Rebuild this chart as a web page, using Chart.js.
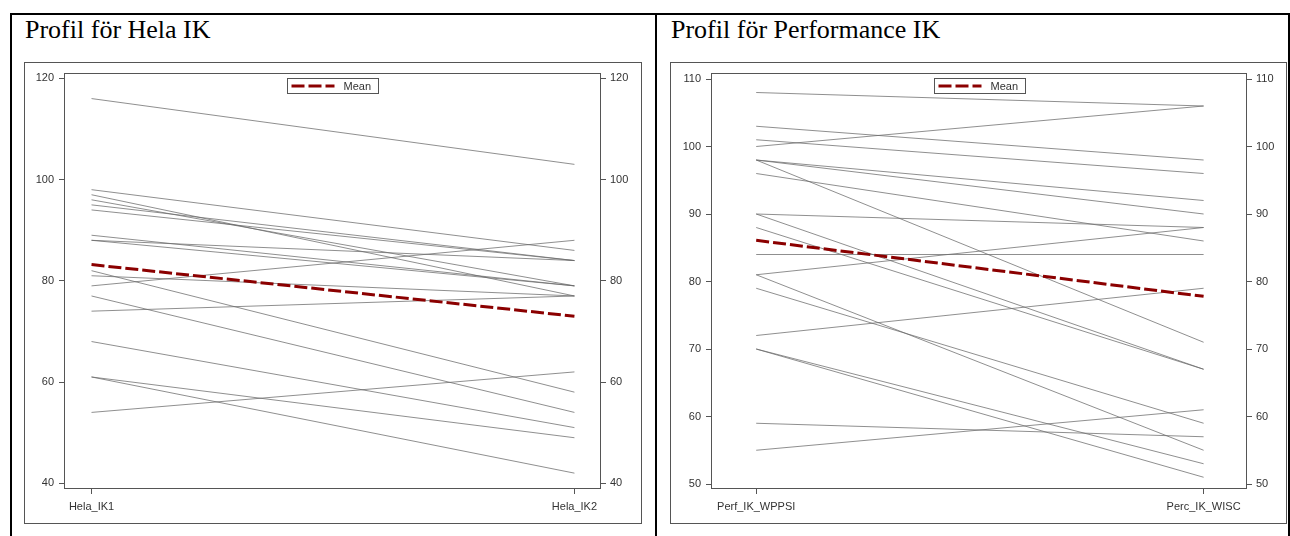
<!DOCTYPE html>
<html>
<head>
<meta charset="utf-8">
<script src="https://cdn.jsdelivr.net/npm/chart.js@4.4.1/dist/chart.umd.min.js"></script>
<style>
  html, body { margin: 0; padding: 0; background: #fff; }
  body { width: 1290px; height: 536px; position: relative; overflow: hidden; }
  .rule { position: absolute; background: #000; }
  .title { position: absolute; font-family: "Liberation Serif", "Times New Roman", serif; font-size: 26px; line-height: 30px; color: #000; white-space: nowrap; }
  .box { position: absolute; border: 1px solid #555; box-sizing: border-box; }
  .box canvas { display: block; }
</style>
</head>
<body>
<div class="rule" style="left:10px; top:13px; width:1280px; height:2px;"></div>
<div class="rule" style="left:10px; top:13px; width:2px; height:523px;"></div>
<div class="rule" style="left:655px; top:13px; width:2px; height:523px;"></div>
<div class="rule" style="left:1288px; top:13px; width:2px; height:523px;"></div>

<div class="title" style="left:25px; top:15px;">Profil för Hela IK</div>
<div class="title" style="left:671px; top:15px;">Profil för Performance IK</div>

<div class="box" style="left:24px; top:62px; width:618px; height:462px;"><canvas id="helaChart"></canvas></div>
<div class="box" style="left:670px; top:62px; width:617px; height:462px;"><canvas id="perfChart"></canvas></div>

<script>
/* Data: one value per child, paired by index */
const helaLabels = ["Hela_IK1", "Hela_IK2"];
const helaIK1 = [116, 98, 97, 96, 95, 94, 89, 88, 88, 82, 81, 79, 77, 74, 68, 61, 61, 54];
const helaIK2 = [103, 86, 77, 79, 84, 84, 79, 84, 79, 58, 77, 88, 54, 77, 51, 49, 42, 62];
const helaMean = [83.2, 73.0];
const helaTicks = [40, 60, 80, 100, 120];

const perfLabels = ["Perf_IK_WPPSI", "Perc_IK_WISC"];
const perfWPPSI = [108, 100, 103, 101, 98, 98, 98, 96, 90, 90, 88, 84, 81, 81, 79, 72, 70, 70, 59, 55];
const percWISC = [106, 106, 98, 96, 92, 90, 71, 86, 88, 67, 67, 84, 88, 55, 59, 79, 53, 51, 57, 61];
const perfMean = [86.1, 77.8];
const perfTicks = [50, 60, 70, 80, 90, 100, 110];

/* Style */
const axisColor = "#555";
const textColor = "#333";
const lineColor = "rgba(105,105,105,0.75)";
const meanColor = "#8b0000";
const meanDash = [13, 4];

Chart.defaults.font.family = "'Liberation Sans', Arial, sans-serif";
Chart.defaults.font.size = 11;
Chart.defaults.color = textColor;

/* Frame around the plot area + SAS-like legend box inside it */
const framePlugin = {
    id: "frame",
    afterDraw(chart) {
        const { ctx, chartArea: a } = chart;
        ctx.save();
        ctx.strokeStyle = axisColor;
        ctx.lineWidth = 1;
        ctx.strokeRect(Math.round(a.left) + 0.5, Math.round(a.top) + 0.5,
            Math.round(a.right - a.left) - 1, Math.round(a.bottom - a.top) - 1);

        const ds = chart.data.datasets.find(d => d.label);
        const w = 91, h = 15;
        const x0 = Math.round((a.left + a.right) / 2 - w / 2) + 0.5;
        const y0 = Math.round(a.top + 5) + 0.5;
        ctx.fillStyle = "#fff";
        ctx.fillRect(x0, y0, w, h);
        ctx.strokeRect(x0, y0, w, h);

        ctx.beginPath();
        ctx.strokeStyle = ds.borderColor;
        ctx.lineWidth = ds.borderWidth;
        ctx.setLineDash(ds.borderDash);
        ctx.moveTo(x0 + 4, y0 + h / 2);
        ctx.lineTo(x0 + 47, y0 + h / 2);
        ctx.stroke();
        ctx.setLineDash([]);

        ctx.fillStyle = textColor;
        ctx.font = "11px 'Liberation Sans', Arial, sans-serif";
        ctx.textBaseline = "middle";
        ctx.fillText(ds.label, x0 + 56, y0 + h / 2 + 0.5);
        ctx.restore();
    }
};

function buildDatasets(first, second, mean) {
    const sets = first.map((v, i) => ({
        data: [{ x: 1, y: v }, { x: 2, y: second[i] }],
        borderColor: lineColor,
        borderWidth: 1,
        pointRadius: 0,
        order: 2
    }));
    sets.push({
        label: "Mean",
        data: [{ x: 1, y: mean[0] }, { x: 2, y: mean[1] }],
        borderColor: meanColor,
        borderWidth: 3,
        borderDash: meanDash,
        pointRadius: 0,
        order: 1
    });
    return sets;
}

function yAxis(pos, min, max, ticks, width) {
    return {
        type: "linear",
        position: pos,
        min, max,
        afterBuildTicks: s => { s.ticks = ticks.map(v => ({ value: v })); },
        afterFit: s => { s.width = width; s.paddingTop = 0; s.paddingBottom = 0; },
        border: { display: false },
        grid: { drawOnChartArea: false, drawTicks: true, tickLength: 5, tickColor: axisColor },
        ticks: { padding: pos === "left" ? 5 : 4, color: textColor }
    };
}

function makeChart(canvas, labels, first, second, mean, ticks, opt) {
    return new Chart(canvas, {
        type: "line",
        data: { datasets: buildDatasets(first, second, mean) },
        options: {
            responsive: true,
            maintainAspectRatio: false,
            animation: false,
            layout: { padding: { top: 10, left: 0, right: 0, bottom: 0 } },
            plugins: { legend: { display: false }, tooltip: { enabled: false } },
            scales: {
                x: {
                    type: "linear",
                    min: opt.xMin, max: opt.xMax,
                    afterBuildTicks: s => { s.ticks = [{ value: 1 }, { value: 2 }]; },
                    afterFit: s => { s.height = 34; s.paddingLeft = 0; s.paddingRight = 0; },
                    border: { display: false },
                    grid: { drawOnChartArea: false, drawTicks: true, tickLength: 5, tickColor: axisColor },
                    ticks: { padding: 6, maxRotation: 0, callback: v => labels[v - 1] }
                },
                y: yAxis("left", opt.yMin, opt.yMax, ticks, opt.leftW),
                y2: yAxis("right", opt.yMin, opt.yMax, ticks, opt.rightW)
            }
        },
        plugins: [framePlugin]
    });
}

makeChart(document.getElementById("helaChart"), helaLabels, helaIK1, helaIK2, helaMean, helaTicks,
    { xMin: 0.943, xMax: 2.055, yMin: 38.87, yMax: 121.05, leftW: 39, rightW: 40 });

makeChart(document.getElementById("perfChart"), perfLabels, perfWPPSI, percWISC, perfMean, perfTicks,
    { xMin: 0.899, xMax: 2.097, yMin: 49.26, yMax: 110.89, leftW: 40, rightW: 39 });
</script>
</body>
</html>
